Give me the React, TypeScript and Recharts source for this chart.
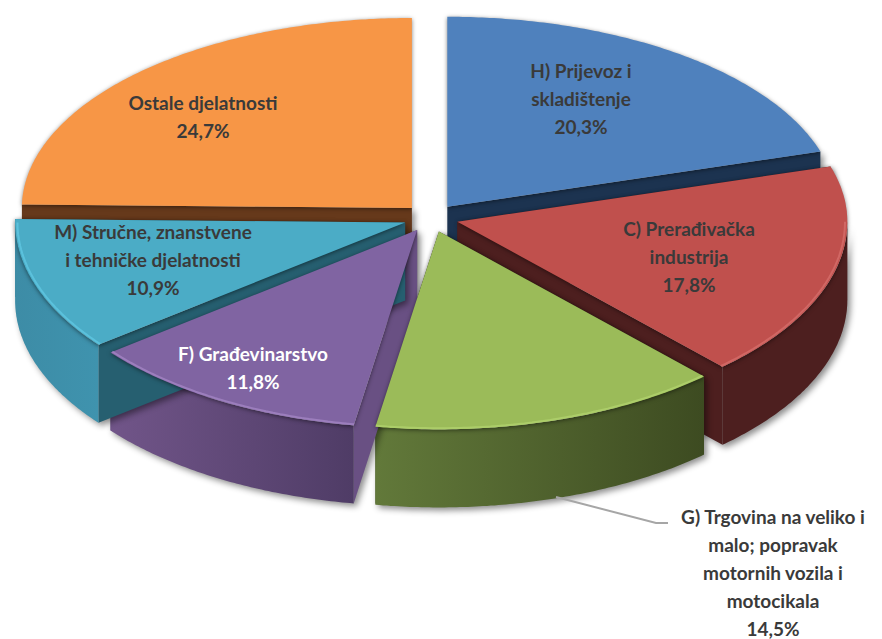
import { PieChart, Pie } from 'recharts';

const CATEGORIES = ['H', 'C', 'G', 'F', 'M', 'Ostale'];
const SHARES = [20.3, 17.8, 14.5, 11.8, 10.9, 24.7];
const LABEL_LINES = [
  ['H) Prijevoz i', 'skladištenje'],
  ['C) Prerađivačka', 'industrija'],
  ['G) Trgovina na veliko i', 'malo; popravak', 'motornih vozila i', 'motocikala'],
  ['F) Građevinarstvo'],
  ['M) Stručne, znanstvene', 'i tehničke djelatnosti'],
  ['Ostale djelatnosti'],
];

const TOP_COLORS = ['#4f81bd', '#c0504d', '#9bbb59', '#8064a2', '#4bacc6', '#f79646'];
const RIM_COLORS = ['#6f9bd2', '#d9716e', '#b4d670', '#a88ac9', '#62cbe6', '#fbb06f'];
const CUT_COLORS = ['#1c3350', '#4d1f1f', '#3d4b21', '#695083', '#265f70', '#66391b'];
const WALL_FILLS = ['#1c3350', '#4d1f1f', 'url(#wallGreen)', 'url(#wallPurple)', 'url(#wallTeal)', '#66391b'];
const LABEL_COLORS = ['#3a3a3a', '#3a3a3a', '#3a3a3a', '#ffffff', '#3a3a3a', '#3a3a3a'];
const LABEL_ANCHORS = [
  [581, 78],
  [689, 236],
  [773, 524],
  [253, 361],
  [153, 239],
  [203, 110],
];

const WIDTH = 882;
const HEIGHT = 639;
const CX = 431;
const CY = 218;
const RX = 390;
const RY_BACK = 190;
const RY_FRONT = 198;
const DEPTH = 78;
const EXPLODE = 0.07;
const LINE_HEIGHT = 28;

const data = CATEGORIES.map((name, i) => ({ name, value: SHARES[i] }));

// recharts angle (ccw from east) -> clockwise from north
const toTheta = (a: number) => ((90 - a) * Math.PI) / 180;

const project = (theta: number, ox: number, oy: number, r = 1) => {
  const c = Math.cos(theta);
  return [ox + RX * r * Math.sin(theta), oy - (c > 0 ? RY_BACK : RY_FRONT) * r * c];
};

const apexOf = (startAngle: number, endAngle: number) => {
  const mid = toTheta((startAngle + endAngle) / 2);
  return [CX + RX * EXPLODE * Math.sin(mid), CY - 200 * EXPLODE * Math.cos(mid)];
};

const arcPoints = (a: number, b: number, ox: number, oy: number, r = 1) => {
  const n = Math.max(2, Math.ceil(Math.abs(b - a) / 0.01));
  const pts: number[][] = [];
  for (let i = 0; i <= n; i++) pts.push(project(a + ((b - a) * i) / n, ox, oy, r));
  return pts;
};

const toPath = (pts: number[][], close = true) =>
  pts.map((p, i) => `${i ? 'L' : 'M'}${p[0].toFixed(1)} ${p[1].toFixed(1)}`).join(' ') + (close ? ' Z' : '');

const cutWall = (theta: number, ox: number, oy: number) => {
  const p = project(theta, ox, oy);
  return toPath([[ox, oy], p, [p[0], p[1] + DEPTH], [ox, oy + DEPTH]]);
};

const wallShape = (show: number[]) => (props: any) => {
  const idx = CATEGORIES.indexOf(props.name);
  if (!show.includes(idx)) return <g />;
  const [ox, oy] = apexOf(props.startAngle, props.endAngle);
  const t1 = toTheta(props.startAngle);
  const t2 = toTheta(props.endAngle);
  // only the front half of the rim is ever seen
  const a = Math.max(t1, Math.PI / 2);
  const b = Math.min(t2, (3 * Math.PI) / 2);
  const rim = a < b ? arcPoints(a, b, ox, oy) : [];
  const shadow = { filter: 'drop-shadow(3px 3px 3px rgba(0,0,0,0.45))' };
  return (
    <g style={shadow}>
      <path d={cutWall(t1, ox, oy)} fill={CUT_COLORS[idx]} />
      <path d={cutWall(t2, ox, oy)} fill={CUT_COLORS[idx]} />
      {rim.length > 0 && (
        <path
          d={toPath([...rim, ...rim.slice().reverse().map((p) => [p[0], p[1] + DEPTH])])}
          fill={WALL_FILLS[idx]}
        />
      )}
    </g>
  );
};

const topShape = (props: any) => {
  const idx = CATEGORIES.indexOf(props.name);
  const [ox, oy] = apexOf(props.startAngle, props.endAngle);
  const t1 = toTheta(props.startAngle);
  const t2 = toTheta(props.endAngle);
  const a = Math.max(t1, Math.PI / 2);
  const b = Math.min(t2, (3 * Math.PI) / 2);
  return (
    <g>
      <path
        d={toPath([[ox, oy], ...arcPoints(t1, t2, ox, oy)])}
        fill={TOP_COLORS[idx]}
        style={{ filter: 'drop-shadow(0px 1px 2px rgba(0,0,0,0.5))' }}
      />
      {a < b && (
        <path
          d={toPath(arcPoints(a, b, ox, oy, 0.994), false)}
          fill="none"
          stroke={RIM_COLORS[idx]}
          strokeWidth={2}
          opacity={0.7}
          style={{ filter: 'blur(0.6px)' }}
        />
      )}
    </g>
  );
};

const renderLabel = (props: any) => {
  const idx = CATEGORIES.indexOf(props.name);
  const [x, y] = LABEL_ANCHORS[idx];
  const lines = [...LABEL_LINES[idx], `${SHARES[idx].toFixed(1).replace('.', ',')}%`];
  return (
    <g key={props.name}>
      {props.name === 'G' && (
        <polyline points="556,497 656,523 668,523" fill="none" stroke="#a6a6a6" strokeWidth={2} />
      )}
      <text
        x={x}
        y={y}
        textAnchor="middle"
        fill={LABEL_COLORS[idx]}
        fontFamily="Lato, sans-serif"
        fontWeight={700}
        fontSize={19}
      >
        {lines.map((line, i) => (
          <tspan key={i} x={x} y={y + i * LINE_HEIGHT}>
            {line}
          </tspan>
        ))}
      </text>
    </g>
  );
};

const pieProps = {
  data,
  dataKey: 'value',
  nameKey: 'name',
  cx: CX,
  cy: CY,
  outerRadius: RX,
  startAngle: 90,
  endAngle: -270,
  stroke: 'none',
  isAnimationActive: false,
  labelLine: false,
};

export default function App() {
  return (
    <div style={{ position: 'absolute', left: 0, top: 0, width: WIDTH, height: HEIGHT }}>
      <PieChart width={WIDTH} height={HEIGHT} margin={{ top: 0, right: 0, bottom: 0, left: 0 }}>
        <defs>
          <linearGradient id="wallGreen" x1="0" y1="0" x2="1" y2="0">
            <stop offset="0%" stopColor="#62793a" />
            <stop offset="100%" stopColor="#3d4b21" />
          </linearGradient>
          <linearGradient id="wallPurple" x1="0" y1="0" x2="1" y2="0">
            <stop offset="0%" stopColor="#715589" />
            <stop offset="100%" stopColor="#4f3c66" />
          </linearGradient>
          <linearGradient id="wallTeal" x1="0" y1="0" x2="1" y2="0">
            <stop offset="0%" stopColor="#3d8ca6" />
            <stop offset="100%" stopColor="#3f93ae" />
          </linearGradient>
        </defs>
        <Pie {...pieProps} shape={wallShape([0, 5])} />
        <Pie {...pieProps} shape={wallShape([1, 2, 3, 4])} />
        <Pie {...pieProps} shape={topShape} label={renderLabel} />
      </PieChart>
    </div>
  );
}
